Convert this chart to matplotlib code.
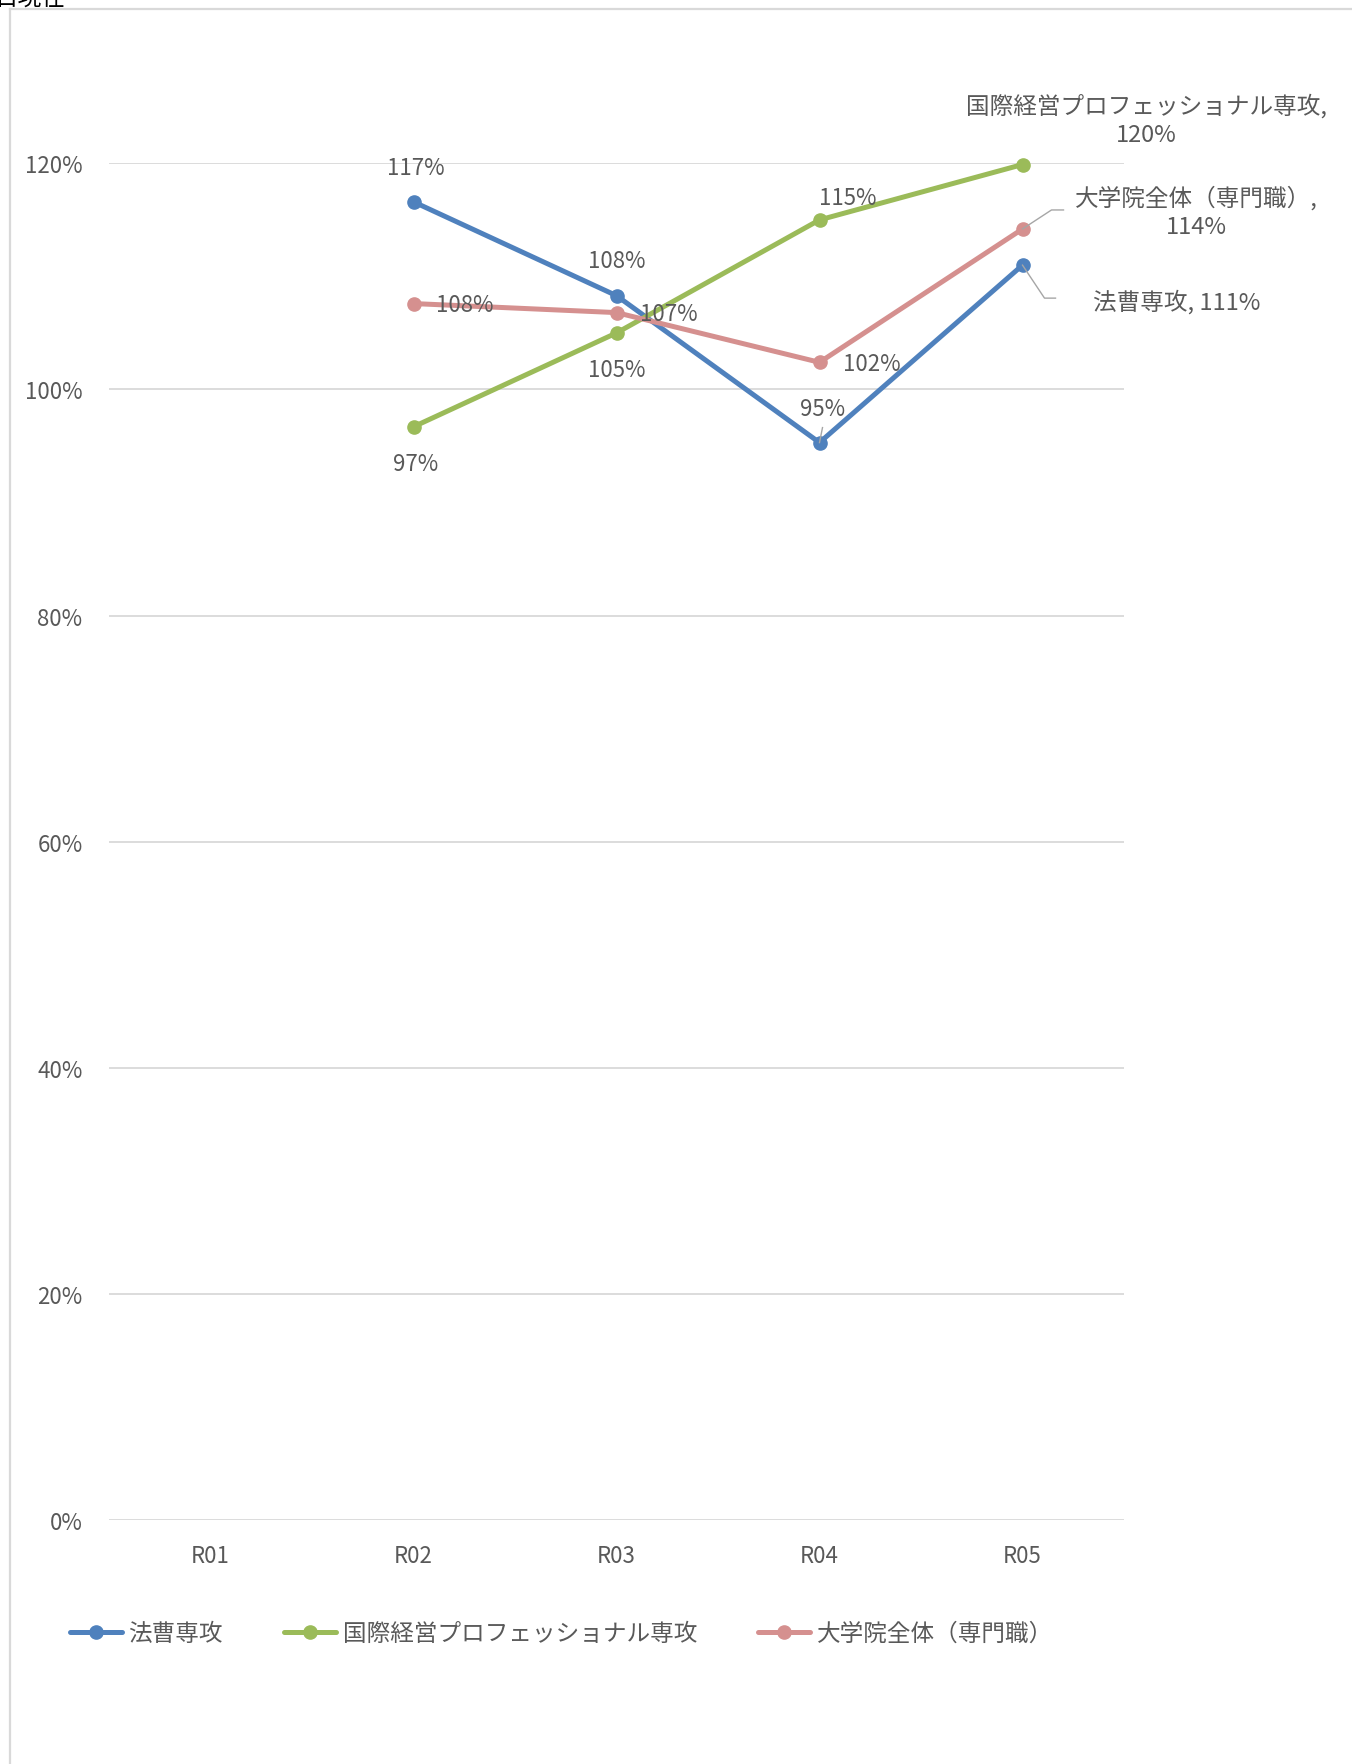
import matplotlib
matplotlib.use("Agg")
import matplotlib.pyplot as plt
from matplotlib.lines import Line2D
from matplotlib.ticker import FuncFormatter

plt.rcParams['font.family'] = ['Noto Sans CJK JP', 'DejaVu Sans']

categories = ["R01", "R02", "R03", "R04", "R05"]
series_names = ["法曹専攻", "国際経営プロフェッショナル専攻", "大学院全体（専門職）"]
law = [None, 1.166, 1.083, 0.953, 1.110]
intl = [None, 0.967, 1.050, 1.150, 1.199]
total = [None, 1.076, 1.068, 1.024, 1.142]
y_ticks = [0, 0.2, 0.4, 0.6, 0.8, 1.0, 1.2]

colors = ["#4F81BD", "#9BBB59", "#D5908F"]
text_color = "#595959"
grid_color = "#D9D9D9"
FS = 16
FS_CJK = 17

W, H = 1352, 1765
fig = plt.figure(figsize=(W / 100, H / 100), dpi=100)
fig.patch.set_facecolor("white")

# chart border (cropped on the right/bottom)
fig.add_artist(Line2D([10 / W, 10 / W], [1 - 10 / H, 0], transform=fig.transFigure,
                      color=grid_color, lw=1.6))
fig.add_artist(Line2D([10 / W, 1], [1 - 10 / H, 1 - 10 / H], transform=fig.transFigure,
                      color=grid_color, lw=1.6))
# cropped title text at top-left (cut off in the reference as well)
fig.text(66 / W, 1 - 4.5 / H, "日現在", ha="right", va="baseline", fontsize=17, color="black")

left, right = 109 / W, 1124 / W
top, bottom = 1 - 164.4 / H, 1 - 1520.8 / H
ax = fig.add_axes([left, bottom, right - left, top - bottom])
ax.set_xlim(-0.5, len(categories) - 0.5)
ax.set_ylim(0, 1.2)
for s in ax.spines.values():
    s.set_visible(False)
ax.set_yticks(y_ticks)
ax.yaxis.set_major_formatter(FuncFormatter(lambda v, p: f"{v*100:.0f}%"))
ax.set_xticks(range(len(categories)))
ax.set_xticklabels(categories)
ax.tick_params(axis="both", length=0, labelsize=FS, labelcolor=text_color)
ax.tick_params(axis="y", pad=19)
ax.tick_params(axis="x", pad=17.5)
ax.grid(axis="y", color=grid_color, lw=1.3)
ax.set_axisbelow(True)

xs = list(range(len(categories)))
handles = []
for vals, c, name in zip([law, intl, total], colors, series_names):
    px = [x for x, v in zip(xs, vals) if v is not None]
    py = [v for v in vals if v is not None]
    h, = ax.plot(px, py, color=c, lw=3.6, marker="o", markersize=9.5,
                 markeredgecolor=c, label=name, solid_capstyle="round", clip_on=False)
    handles.append(h)

def pct(v):
    return f"{v*100:.0f}%"

def lab(x, y, text, dx, dy, fs=FS):
    ax.annotate(text, (x, y), xytext=(dx, -dy), textcoords="offset pixels",
                ha="center", va="center", fontsize=fs, color=text_color,
                linespacing=1.3, annotation_clip=False, zorder=10)

# 法曹専攻
lab(1, law[1], pct(law[1]), 2, -34)
lab(2, law[2], pct(law[2]), 0, -35)
lab(3, law[3], pct(law[3]), 3, -34)
lab(4, law[4], f"{series_names[0]}, {pct(law[4])}", 154, 36, FS_CJK)
# 国際経営
lab(1, intl[1], pct(intl[1]), 2, 37)
lab(2, intl[2], pct(intl[2]), 0, 37)
lab(3, intl[3], pct(intl[3]), 28, -22.5)
lab(4, intl[4], f"{series_names[1]},\n{pct(intl[4])}", 124, -45, FS_CJK)
# 大学院全体
lab(1, total[1], pct(total[1]), 51, 1)
lab(2, total[2], pct(total[2]), 52, 1)
lab(3, total[3], pct(total[3]), 52, 1)
lab(4, total[4], f"{series_names[2]},\n{pct(total[4])}", 174, -17, FS_CJK)

# leader lines (pixel offsets from data points)
def leader(x, y, pts):
    bx, by = ax.transData.transform((x, y))
    inv = fig.transFigure.inverted()
    fpts = [inv.transform((bx + p[0], by - p[1])) for p in pts]
    fig.add_artist(Line2D([p[0] for p in fpts], [p[1] for p in fpts],
                          transform=fig.transFigure, color="#A6A6A6", lw=1.0, zorder=5))

leader(4, law[4], [(0, 0), (22, 33), (33, 33)])
leader(4, total[4], [(0, 0), (29, -19), (41, -19)])
leader(3, law[3], [(0, 0), (3, -15)])

fig.legend(handles=handles, loc="center left", bbox_to_anchor=(70 / W, 1 - 1634.5 / H),
           ncol=3, frameon=False, fontsize=FS_CJK, labelcolor=text_color,
           handlelength=2.2, handletextpad=0.27, columnspacing=2.6,
           borderpad=0, borderaxespad=0)

fig.savefig("out.png", dpi=100, facecolor="white")
